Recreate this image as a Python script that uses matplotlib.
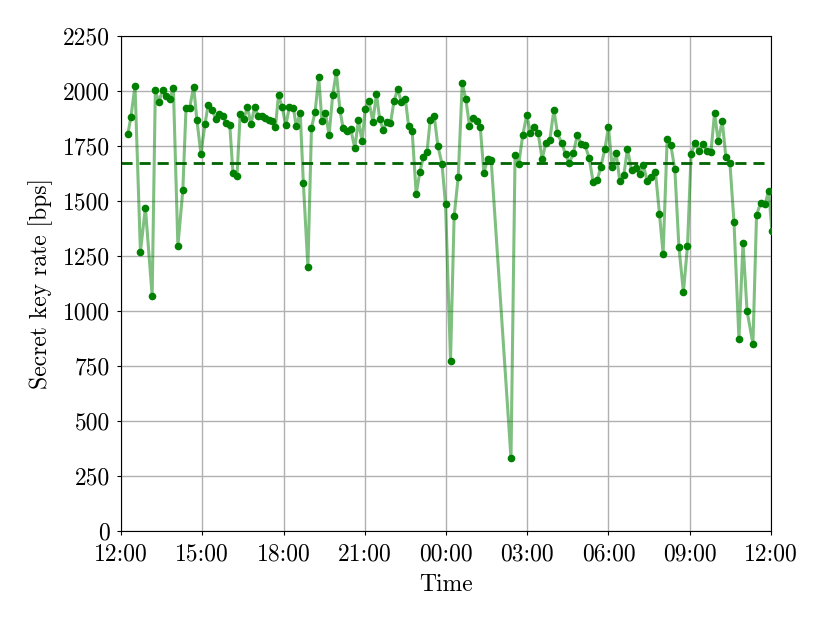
import numpy as np
import pandas as pd
import matplotlib
matplotlib.use("Agg")
import matplotlib.pyplot as plt
import matplotlib.dates as mdates
from matplotlib.ticker import FuncFormatter, MultipleLocator

# Measurement times (starting 12:00, running past midnight to the next noon)
times = [
    "12:15", "12:22", "12:31", "12:43", "12:54", "13:09", "13:16", "13:24", "13:32", "13:40",
    "13:48", "13:56", "14:06", "14:17", "14:24", "14:32", "14:41", "14:48", "14:57", "15:06",
    "15:13", "15:22", "15:30", "15:38", "15:46", "15:53", "16:01", "16:08", "16:17", "16:24",
    "16:32", "16:40", "16:48", "16:56", "17:04", "17:12", "17:20", "17:27", "17:35", "17:42",
    "17:49", "17:57", "18:05", "18:13", "18:22", "18:28", "18:37", "18:44", "18:54", "19:02",
    "19:10", "19:18", "19:25", "19:33", "19:41", "19:49", "19:57", "20:05", "20:12", "20:21",
    "20:29", "20:38", "20:46", "20:54", "21:01", "21:09", "21:18", "21:26", "21:33", "21:41",
    "21:49", "21:57", "22:05", "22:13", "22:21", "22:30", "22:37", "22:45", "22:54", "23:02",
    "23:10", "23:18", "23:25", "23:34", "23:42", "23:51", "23:59", "00:10", "00:18", "00:27",
    "00:36", "00:44", "00:52", "01:00", "01:08", "01:16", "01:24", "01:32", "01:40", "02:24",
    "02:33", "02:41", "02:50", "02:59", "03:07", "03:16", "03:24", "03:33", "03:41", "03:50",
    "03:59", "04:07", "04:16", "04:25", "04:33", "04:42", "04:51", "04:59", "05:08", "05:17",
    "05:26", "05:35", "05:43", "05:52", "06:00", "06:08", "06:17", "06:25", "06:34", "06:42",
    "06:51", "07:00", "07:09", "07:17", "07:26", "07:35", "07:44", "07:53", "08:01", "08:10",
    "08:18", "08:27", "08:36", "08:46", "08:55", "09:03", "09:12", "09:20", "09:29", "09:38",
    "09:47", "09:55", "10:03", "10:12", "10:20", "10:29", "10:38", "10:49", "10:58", "11:07",
    "11:20", "11:28", "11:37", "11:47", "11:55", "12:02",
]

# Secret key rate in bps
rates = [
    1803, 1883, 2023, 1270, 1470, 1068, 2003, 1949, 2006, 1977,
    1962, 2015, 1295, 1551, 1921, 1923, 2020, 1870, 1715, 1849,
    1935, 1914, 1873, 1895, 1886, 1855, 1844, 1627, 1614, 1895,
    1873, 1927, 1850, 1927, 1885, 1888, 1877, 1868, 1864, 1835,
    1983, 1926, 1844, 1926, 1924, 1840, 1901, 1580, 1200, 1833,
    1905, 2064, 1865, 1899, 1800, 1982, 2086, 1915, 1830, 1818,
    1826, 1740, 1867, 1771, 1920, 1956, 1861, 1988, 1873, 1823,
    1861, 1853, 1956, 2008, 1950, 1964, 1843, 1817, 1532, 1632,
    1701, 1724, 1868, 1885, 1750, 1670, 1485, 774, 1430, 1608,
    2035, 1962, 1842, 1876, 1864, 1835, 1626, 1692, 1688, 330,
    1708, 1667, 1799, 1892, 1810, 1838, 1809, 1691, 1762, 1779,
    1915, 1808, 1765, 1712, 1671, 1717, 1801, 1759, 1753, 1697,
    1586, 1595, 1655, 1737, 1835, 1656, 1717, 1592, 1618, 1738,
    1639, 1649, 1624, 1662, 1590, 1608, 1633, 1440, 1260, 1782,
    1755, 1644, 1291, 1086, 1295, 1714, 1764, 1726, 1758, 1729,
    1724, 1900, 1773, 1864, 1701, 1673, 1405, 874, 1309, 1000,
    851, 1436, 1492, 1486, 1547, 1364,
]

mean_rate = 1675

plt.rcParams["font.family"] = "serif"
plt.rcParams["font.serif"] = ["cmr10"]
plt.rcParams["mathtext.fontset"] = "cm"
plt.rcParams["axes.unicode_minus"] = False
plt.rcParams["font.size"] = 17

start = pd.Timestamp("2020-01-01 12:00")
t = pd.to_datetime(["2020-01-01 " + s for s in times])
t = [x + pd.Timedelta(days=1) if x < start else x for x in t]
t = pd.to_datetime(t)
# last sample just past noon belongs to the next day
t = t.where(np.arange(len(t)) < len(t) - 1, t + pd.Timedelta(days=1))

fig = plt.figure(figsize=(8.3, 6.23), dpi=100)
ax = fig.add_axes([0.1458, 0.1477, 0.7831, 0.7945])

ax.plot(t, rates, color="green", alpha=0.5, linewidth=2.2, zorder=2)
ax.plot(t, rates, "o", color="green", markersize=4.5, zorder=3)
ax.axhline(mean_rate, color="darkgreen", linestyle="--", linewidth=2, dashes=(4, 2.5), zorder=2)

ax.set_xlim(start, start + pd.Timedelta(days=1))
ax.set_ylim(0, 2250)
ax.yaxis.set_major_locator(MultipleLocator(250))
ax.xaxis.set_major_locator(mdates.HourLocator(byhour=range(0, 24, 3)))
ax.xaxis.set_major_formatter(mdates.DateFormatter("%H:%M"))
ax.yaxis.set_major_formatter(FuncFormatter(lambda v, pos: "%d" % v))
ax.tick_params(axis="x", length=3, pad=6)
ax.tick_params(axis="y", length=3, pad=5)

ax.grid(True, color="#b0b0b0", linewidth=1, zorder=0)
ax.set_axisbelow(True)
ax.set_xlabel("Time", labelpad=6)
ax.set_ylabel("Secret key rate [bps]", labelpad=7)

fig.savefig("out.png", dpi=100)
